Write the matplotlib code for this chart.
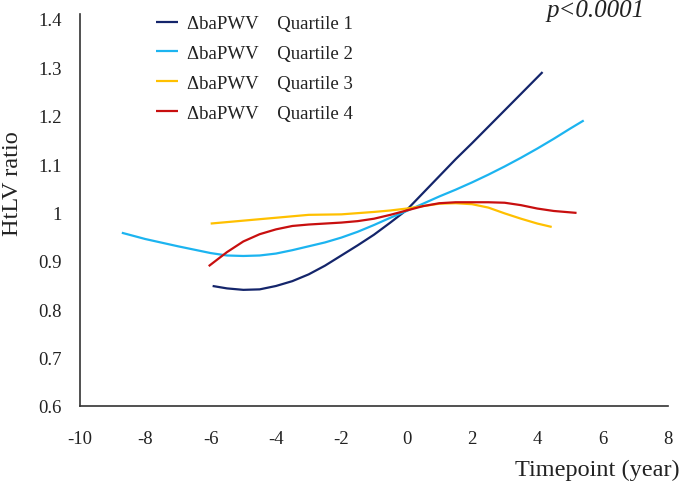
import matplotlib
matplotlib.use("Agg")
import matplotlib.pyplot as plt

# ---- data ----
q1_x = [-5.94, -5.5, -5.0, -4.5, -4.0, -3.5, -3.0, -2.5, -2.0, -1.5, -1.0, -0.5, 0.0, 0.5, 1.0, 1.5, 2.0, 2.5, 3.0, 3.5, 4.16]
q1_y = [0.848, 0.843, 0.840, 0.841, 0.848, 0.858, 0.872, 0.890, 0.911, 0.932, 0.954, 0.979, 1.005, 1.040, 1.075, 1.110, 1.143, 1.177, 1.211, 1.245, 1.290]

q2_x = [-8.72, -8.0, -7.0, -6.0, -5.5, -5.0, -4.5, -4.0, -3.5, -3.0, -2.5, -2.0, -1.5, -1.0, -0.5, 0.0, 0.5, 1.0, 1.5, 2.0, 2.5, 3.0, 3.5, 4.0, 4.5, 5.0, 5.42]
q2_y = [0.958, 0.945, 0.930, 0.916, 0.911, 0.910, 0.911, 0.915, 0.922, 0.930, 0.938, 0.948, 0.960, 0.974, 0.989, 1.003, 1.018, 1.033, 1.047, 1.062, 1.078, 1.095, 1.113, 1.132, 1.152, 1.173, 1.190]

q3_x = [-6.0, -5.0, -4.0, -3.0, -2.0, -1.0, -0.5, 0.0, 0.5, 1.0, 1.5, 2.0, 2.5, 3.0, 3.5, 4.0, 4.44]
q3_y = [0.977, 0.983, 0.989, 0.995, 0.996, 1.001, 1.004, 1.008, 1.013, 1.018, 1.019, 1.017, 1.010, 0.998, 0.987, 0.977, 0.970]

q4_x = [-6.06, -5.5, -5.0, -4.5, -4.0, -3.5, -3.0, -2.5, -2.0, -1.5, -1.0, -0.5, 0.0, 0.5, 1.0, 1.5, 2.0, 2.5, 3.0, 3.5, 4.0, 4.5, 5.2]
q4_y = [0.889, 0.918, 0.940, 0.955, 0.965, 0.972, 0.975, 0.977, 0.979, 0.982, 0.987, 0.995, 1.004, 1.013, 1.019, 1.021, 1.021, 1.021, 1.020, 1.015, 1.008, 1.003, 0.999]

labels = ["\u0394baPWV    Quartile 1", "\u0394baPWV    Quartile 2",
          "\u0394baPWV    Quartile 3", "\u0394baPWV    Quartile 4"]
colors = ["#14256B", "#1CB4F0", "#FFC000", "#C80F0F"]

x_ticks = [-10, -8, -6, -4, -2, 0, 2, 4, 6, 8]
y_ticks = [0.6, 0.7, 0.8, 0.9, 1.0, 1.1, 1.2, 1.3, 1.4]
y_ticklabels = ["0.6", "0.7", "0.8", "0.9", "1", "1.1", "1.2", "1.3", "1.4"]

plt.rcParams['font.family'] = ['Liberation Serif', 'DejaVu Serif']

W, H = 682, 485
fig = plt.figure(figsize=(W / 100, H / 100), dpi=100)
ax = fig.add_axes([80 / W, (H - 407) / H, (668 - 80) / W, (407 - 15) / H])

series = [(q1_x, q1_y), (q2_x, q2_y), (q3_x, q3_y), (q4_x, q4_y)]
for (xs, ys), c, lab in zip(series, colors, labels):
    ax.plot(xs, ys, color=c, lw=1.6, label=lab, solid_capstyle='butt')

ax.set_xlim(-10, 8)
ax.set_ylim(0.6, 1.41)
ax.set_xticks(x_ticks)
ax.set_xticklabels([str(t) for t in x_ticks])
ax.set_yticks(y_ticks)
ax.set_yticklabels(y_ticklabels)
ax.tick_params(length=0, labelsize=13.5, colors='#222222')
ax.tick_params(axis='x', pad=17)
ax.tick_params(axis='y', pad=13)

for s in ['top', 'right']:
    ax.spines[s].set_visible(False)
for s in ['left', 'bottom']:
    ax.spines[s].set_linewidth(1.2)
    ax.spines[s].set_color('#333333')

fig.text(680 / W, (H - 470) / H, "Timepoint (year)", ha='right', va='center',
         fontsize=17.5, color='#222222')
fig.text(12 / W, (H - 184) / H, "HtLV ratio", ha='center', va='center',
         rotation=90, fontsize=17.5, color='#222222')
fig.text(596 / W, (H - 17) / H, "p<0.0001", ha='center', va='baseline',
         fontsize=18, style='italic', color='#222222')

leg = ax.legend(loc='upper left', bbox_to_anchor=(156 / W, (H - 16) / H),
                bbox_transform=fig.transFigure, frameon=False, fontsize=13.5,
                handlelength=1.15, handletextpad=0.5, labelspacing=0.68,
                borderpad=0, borderaxespad=0)
for t in leg.get_texts():
    t.set_color('#222222')

fig.savefig("out.png", dpi=100)
